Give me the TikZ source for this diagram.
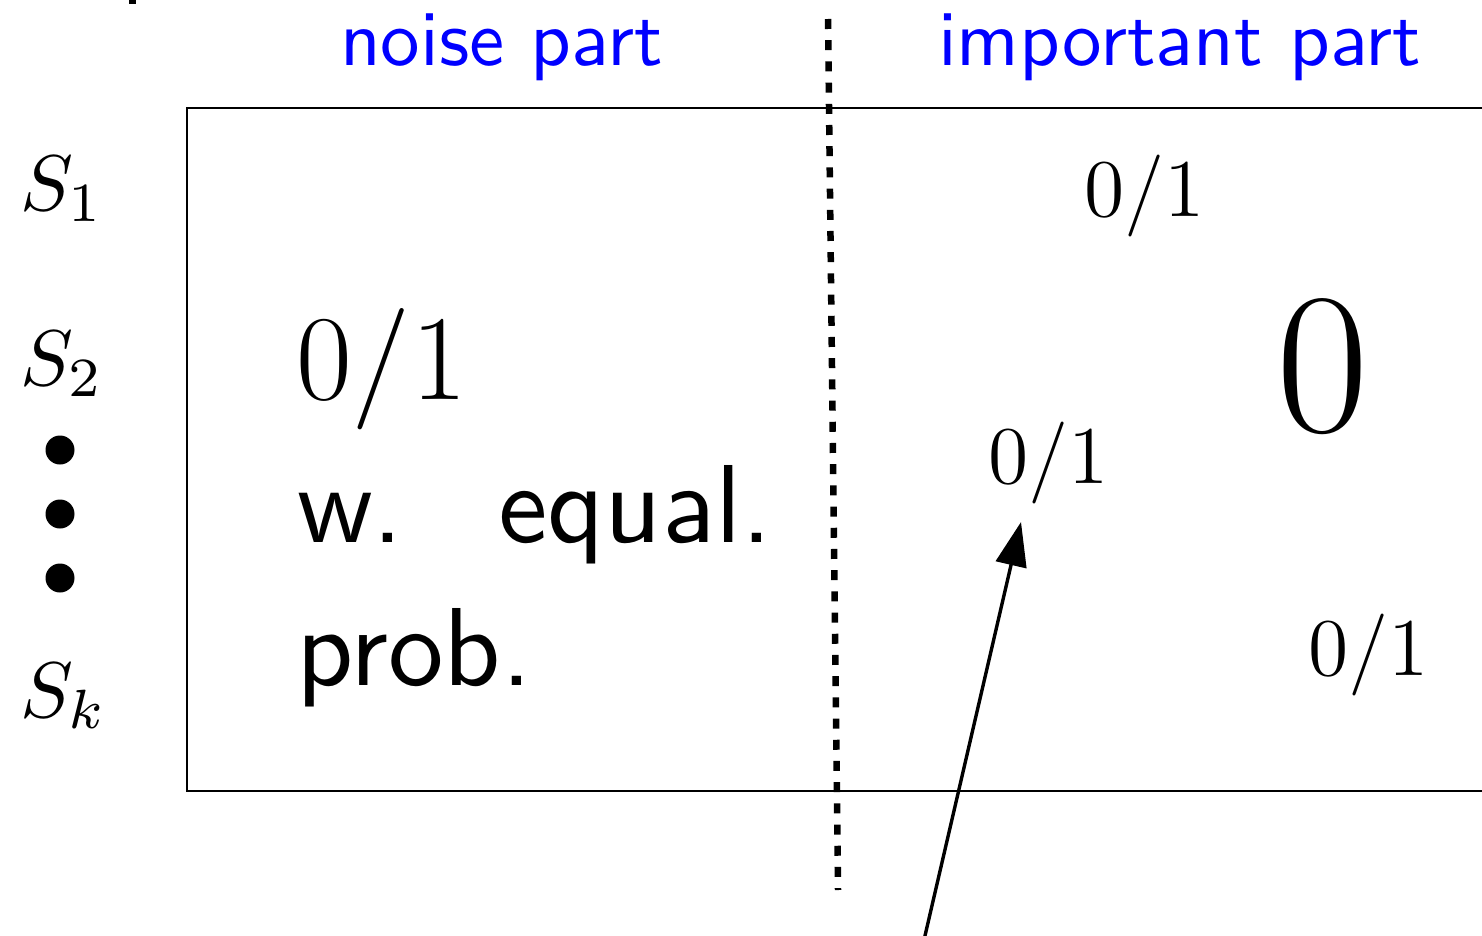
\documentclass[tikz,border=0pt]{standalone}
\usetikzlibrary{arrows.meta}
\begin{document}
\begin{tikzpicture}[x=1pt,y=-1pt,
  txt/.style={inner sep=0pt, outer sep=0pt, anchor=base west},
  slabel/.style={txt, scale=7.9, font=\fontsize{10}{12}\selectfont},
  header/.style={txt, scale=7.9, font=\fontsize{10}{12}\selectfont\sffamily, text=blue},
  bigsans/.style={txt, scale=11.1, font=\fontsize{10}{12}\selectfont\sffamily},
  bignum/.style={txt, scale=5.85, font=\fontsize{20}{24}\selectfont},
  smallnum/.style={txt, scale=6.83, font=\fontsize{12}{14}\selectfont},
  zeronum/.style={txt, scale=9.7, font=\fontsize{20}{24}\selectfont},
  frame/.style={draw=black, line width=2.6pt},
  sep/.style={draw=black, line width=6.5pt, dash pattern=on 10pt off 11.2pt},
  pointer/.style={draw=black, line width=3.4pt, -{Triangle[length=44pt,width=31pt]}},
  dotmark/.style={circle, fill=black, inner sep=0pt, minimum size=29pt}
]
\useasboundingbox (0,0) rectangle (1482,936);
\fill (129,0) rectangle (136,4);
% frame
\draw[frame] (187,108) rectangle (1520,791);
% separator
\coordinate (septop) at (828,19);
\coordinate (sepbot) at (838,890);
\draw[sep] (septop) -- (sepbot);
% headers
\node[header] (noise) at (340,66) {noise part};
\node[header] (imp) at (938,66) {important part};
% row labels
\node[slabel] (s1) at (20,210) {$S_1$};
\node[slabel] (s2) at (20,385) {$S_2$};
\node[slabel] (sk) at (20,717) {$S_k$};
\node[dotmark] (d1) at (60,450) {};
\node[dotmark] (d2) at (60,514) {};
\node[dotmark] (d3) at (60,578) {};
% noise part text
\node[bignum] (n01) at (296,399) {$0/1$};
\node[bigsans] (nw) at (297,542) {w.};
\node[bigsans] (neq) at (498,542) {equal.};
\node[bigsans] (npr) at (296,685) {prob.};
% important part
\node[smallnum] (i1) at (1084,216) {$0/1$};
\node[smallnum] (i2) at (988,483) {$0/1$};
\node[smallnum] (i3) at (1308,675) {$0/1$};
\node[zeronum] (zero) at (1276,431) {$0$};
% arrow
\coordinate (atail) at (924,940);
\coordinate (atip) at (1021,522);
\draw[pointer] (atail) -- (atip);
\end{tikzpicture}
\end{document}
